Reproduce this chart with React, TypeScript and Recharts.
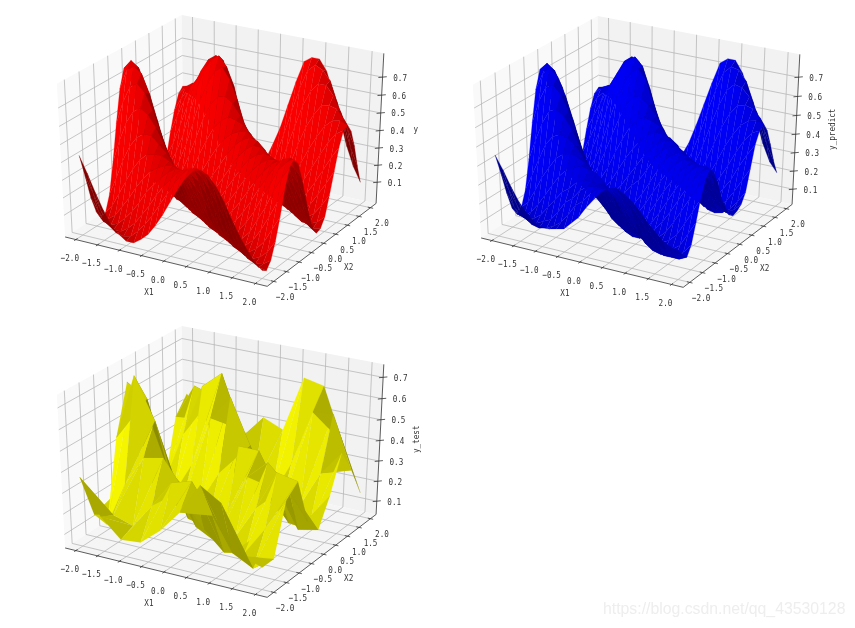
import React from 'react';
import { ScatterChart, Scatter, XAxis, YAxis } from 'recharts';

// Surface heights in hundredths. Rows run along X2 = -2 .. 2, columns along X1 = -2 .. 2.
const gridFine = [-2, -1.833, -1.667, -1.5, -1.333, -1.167, -1, -0.833, -0.667, -0.5, -0.333, -0.167, 0, 0.167, 0.333, 0.5, 0.667, 0.833, 1, 1.167, 1.333, 1.5, 1.667, 1.833, 2];
const gridCoarse = [-2, -1.556, -1.111, -0.667, -0.222, 0.222, 0.667, 1.111, 1.556, 2];

const yHundredths = [
  [43,34,24,15,7,3,0,0,3,7,13,20,28,36,43,48,50,48,43,36,27,19,12,6,2],
  [30,21,12,5,1,0,1,5,10,16,23,30,37,43,47,48,46,41,33,24,16,9,4,1,0],
  [16,9,3,0,0,3,7,13,19,26,32,37,42,44,45,42,36,29,21,13,6,2,0,1,4],
  [6,1,0,2,6,11,17,24,29,34,38,41,41,40,37,31,24,16,9,4,1,0,2,6,13],
  [0,1,4,10,16,23,29,34,37,39,40,39,36,31,26,19,12,6,2,0,1,4,9,17,25],
  [2,7,15,23,31,37,41,42,42,40,37,33,27,21,14,8,4,1,0,2,6,13,21,30,39],
  [11,21,32,41,47,50,50,46,42,36,30,24,17,11,6,2,0,1,3,8,16,24,34,42,49],
  [28,41,52,59,62,59,53,45,37,28,21,14,8,3,1,0,2,5,11,18,27,35,44,49,52],
  [48,61,70,73,69,60,49,38,27,18,11,6,2,0,1,3,8,14,21,29,36,43,48,50,48],
  [66,77,80,77,67,53,39,26,16,9,4,1,0,2,5,11,17,24,31,37,42,45,46,43,38],
  [76,81,78,68,54,39,25,14,7,2,0,1,3,8,14,21,28,34,39,42,43,42,38,33,26],
  [74,74,64,51,36,23,12,5,1,0,2,6,11,18,25,32,38,41,43,42,39,34,28,21,14],
  [61,55,44,31,18,9,3,0,1,4,9,15,22,29,36,41,44,44,41,37,31,24,17,11,5],
  [43,34,24,13,6,1,0,2,7,13,20,27,34,40,44,46,45,41,35,28,21,14,8,3,0],
  [25,16,9,3,0,1,5,11,19,27,34,40,44,46,47,44,40,33,25,18,11,5,2,0,1],
  [11,5,1,0,2,8,16,26,35,43,48,51,50,48,44,38,30,22,15,8,3,0,0,2,6],
  [2,0,1,5,12,22,33,45,54,59,60,57,51,44,36,28,19,12,6,2,0,1,4,10,17],
  [0,2,7,15,26,39,53,63,71,74,68,58,45,35,25,16,9,4,1,0,2,7,14,21,29],
  [4,10,18,29,43,57,69,75,78,73,63,47,34,23,13,6,2,0,1,5,11,18,26,34,41],
  [12,21,32,44,57,66,73,76,74,62,47,33,20,11,4,1,0,3,8,16,24,32,40,46,49],
  [25,35,45,54,60,64,66,64,57,43,29,17,8,2,0,1,6,13,23,32,40,47,51,52,50],
  [36,44,50,54,57,58,56,49,36,24,13,5,1,0,3,10,19,31,42,50,56,57,56,51,45],
  [44,49,52,52,49,45,38,28,17,8,2,0,1,6,14,26,39,52,61,66,66,61,53,44,35],
  [47,48,47,42,36,28,20,11,5,1,0,3,9,18,31,45,59,70,74,72,67,56,44,32,22],
  [42,40,36,29,21,14,7,2,0,1,5,12,22,33,47,61,73,76,76,70,58,44,30,19,11],
];

const yPredictHundredths = [
  [45,38,30,23,18,14,12,12,13,14,18,22,28,33,38,41,42,40,37,33,28,24,20,18,17],
  [34,26,19,13,10,9,10,12,15,20,26,29,34,37,38,38,36,34,29,24,19,15,13,12,13],
  [22,15,11,9,9,11,13,18,24,27,32,35,36,36,36,33,29,25,19,14,10,8,8,8,10],
  [12,9,8,9,12,17,22,27,30,34,36,36,36,34,31,27,22,15,10,7,6,6,7,10,15],
  [7,7,10,15,21,27,33,37,39,41,40,39,35,31,25,19,13,10,8,6,6,8,11,18,25],
  [9,13,20,28,34,40,43,44,43,41,37,33,27,21,16,10,8,7,7,8,10,14,21,28,36],
  [17,26,35,44,49,51,50,47,42,37,30,24,18,12,8,6,6,6,8,12,18,25,32,39,44],
  [32,43,53,60,62,59,53,45,37,29,22,15,9,5,3,3,6,10,15,21,28,35,41,46,48],
  [50,62,70,72,68,60,50,39,29,20,13,7,4,2,3,6,11,17,24,31,37,43,46,47,45],
  [66,75,79,75,66,54,41,29,19,12,6,3,2,3,6,13,20,27,33,39,43,45,45,43,38],
  [75,79,76,68,55,41,28,18,11,6,3,3,5,10,16,23,30,36,41,44,44,43,40,34,28],
  [73,71,64,52,39,27,17,10,6,5,6,8,13,19,26,33,40,43,45,44,42,38,33,28,22],
  [62,56,46,34,23,15,9,7,8,10,15,20,24,30,37,42,45,46,44,40,36,30,25,20,16],
  [45,37,28,19,12,8,7,8,12,17,23,29,35,40,44,46,46,43,38,32,27,22,18,15,14],
  [29,22,15,9,7,8,11,16,23,30,36,41,45,47,47,46,43,36,29,23,20,16,14,14,15],
  [16,11,8,7,9,14,21,30,38,45,50,52,51,49,45,40,34,27,20,15,12,11,11,13,17],
  [9,7,8,11,18,27,37,47,55,60,60,57,52,46,39,31,24,17,12,8,7,8,11,16,22],
  [7,9,13,20,30,42,54,63,70,73,68,57,47,38,29,21,15,10,7,7,9,13,19,26,33],
  [10,15,23,33,45,57,68,74,77,73,62,49,36,26,17,11,8,7,8,11,17,23,31,38,44],
  [18,26,35,46,58,65,72,75,73,61,49,36,25,17,11,8,7,10,14,21,28,36,43,48,50],
  [29,37,45,53,60,64,66,64,57,46,33,22,14,9,7,8,12,19,27,36,43,49,52,53,52],
  [39,46,50,54,57,58,56,49,39,28,18,11,8,7,10,16,24,34,44,52,57,58,57,53,47],
  [46,50,52,52,50,46,40,32,22,14,9,7,8,12,20,30,42,53,62,66,65,61,54,46,38],
  [48,49,48,44,39,32,25,17,11,8,7,10,15,23,34,47,59,69,73,72,67,57,46,36,28],
  [44,42,38,32,26,19,13,9,7,8,12,18,26,37,49,61,72,75,75,69,58,46,34,25,20],
];

const yTestHundredths = [
  [37,20,11,12,20,31,46,40,17,14],
  [15,17,14,26,39,42,28,12,7,14],
  [6,28,43,45,32,15,6,8,22,38],
  [45,76,57,27,10,5,10,26,45,43],
  [68,62,30,8,6,16,35,44,35,20],
  [37,14,6,12,29,44,44,27,10,12],
  [7,8,25,50,62,41,19,7,6,25],
  [10,35,60,68,43,14,6,12,30,42],
  [38,55,52,30,8,8,27,54,55,30],
  [46,35,14,8,42,38,65,63,38,15],
];

const tickVals = [-2, -1.5, -1, -0.5, 0, 0.5, 1, 1.5, 2];
const zTickVals = [0.1, 0.2, 0.3, 0.4, 0.5, 0.6, 0.7];
const toUnits = (rows: number[][]) => rows.map((r) => r.map((v) => v / 100));

const W = 430, H = 310, KX = 2333, KY = 1750, X0 = 223, Y0 = 146, L = 2.25;
const xDom = [-X0 / KX, (W - X0) / KX];
const yDom = [(Y0 - H) / KY, Y0 / KY];
const proj = (x: number, y: number, z: number, zl: number[]) => {
  const qx = (x + L) / (2 * L) - 0.5, qy = (y + L) / (2 * L) - 0.5, qz = (z - zl[0]) / (zl[1] - zl[0]) - 0.5;
  const d = 0.433 * qx - 0.75 * qy + 0.5 * qz;
  const w = 10 - d;
  return { x: (0.866 * qx + 0.5 * qy) / w, y: (-0.25 * qx + 0.433 * qy + 0.866 * qz) / w, d };
};

const Prim = (p: any) => {
  const d = p.payload, cx = p.cx, cy = p.cy;
  if (d.text !== undefined) {
    return <text x={cx} y={cy} fontFamily="'DejaVu Sans Mono'" fontSize={9.5} fill="#333" textAnchor="middle" dominantBaseline="central"
      textLength={d.text.length * 4.6} lengthAdjust="spacingAndGlyphs"
      transform={d.rot ? `rotate(${d.rot} ${cx} ${cy})` : undefined}>{d.text}</text>;
  }
  const pts = d.pts.map((q: any) => `${cx + (q.x - d.x) * KX},${cy - (q.y - d.y) * KY}`).join(' ');
  if (d.fill) return <polygon points={pts} fill={d.fill} stroke={d.edge ? d.fill : 'none'} strokeWidth={d.edge || 0} />;
  return <polyline points={pts} fill="none" stroke={d.stroke} strokeWidth={d.sw} />;
};

function axesPrims(zl: number[], zlab: string) {
  const P = (x: number, y: number, z: number) => proj(x, y, z, zl);
  const [a, b] = zl;
  const poly = (pts: any[], o: any) => ({ x: pts[0].x, y: pts[0].y, pts, ...o });
  const out: any[] = [];
  out.push(poly([P(-L, -L, a), P(-L, L, a), P(-L, L, b), P(-L, -L, b)], { fill: '#f9f9f9' }));
  out.push(poly([P(-L, L, a), P(L, L, a), P(L, L, b), P(-L, L, b)], { fill: '#f2f2f2' }));
  out.push(poly([P(-L, -L, a), P(L, -L, a), P(L, L, a), P(-L, L, a)], { fill: '#f5f5f5' }));
  const gs = { stroke: '#b8b8b8', sw: 0.8 };
  tickVals.forEach((t) => {
    out.push(poly([P(t, -L, a), P(t, L, a), P(t, L, b)], gs));
    out.push(poly([P(L, t, a), P(-L, t, a), P(-L, t, b)], gs));
  });
  zTickVals.forEach((t) => out.push(poly([P(-L, -L, t), P(-L, L, t), P(L, L, t)], gs)));
  const as = { stroke: '#333', sw: 0.8 };
  out.push(poly([P(-L, -L, a), P(L, -L, a), P(L, L, a), P(L, L, b)], as));
  tickVals.forEach((t) => {
    out.push(poly([P(t, -L - 0.06, a), P(t, -L + 0.06, a)], as));
    out.push(poly([P(L - 0.06, t, a), P(L + 0.06, t, a)], as));
    const q = P(t, -L, a);
    out.push({ x: q.x - 6 / KX, y: q.y - 18 / KY, text: t.toFixed(1).replace('-', '\u2212') });
    const r = P(L, t, a);
    out.push({ x: r.x + 11.5 / KX, y: r.y - 15 / KY, text: t.toFixed(1).replace('-', '\u2212') });
  });
  zTickVals.forEach((t) => {
    out.push(poly([P(L - 0.06, L - 0.06, t), P(L + 0.06, L + 0.06, t)], as));
    const q = P(L, L, t);
    out.push({ x: q.x + 17.5 / KX, y: q.y, text: t.toFixed(1) });
  });
  const m = P(0, -L, a);
  out.push({ x: m.x - 15 / KX, y: m.y - 30 / KY, text: 'X1' });
  const m2 = P(L, 0, a);
  out.push({ x: m2.x + 25 / KX, y: m2.y - 23 / KY, text: 'X2' });
  const m3 = P(L, L, (a + b) / 2);
  out.push({ x: m3.x + 36 / KX, y: m3.y + 2 / KY, text: zlab, rot: zlab.length > 1 ? -90 : 0 });
  return out;
}

function surfacePrims(rows: number[][], xs: number[], zl: number[], rgb: number[], tri: boolean) {
  const faces: any[] = [];
  const add = (c: number[][]) => {
    const u = [c[1][0] - c[0][0], c[1][1] - c[0][1], c[1][2] - c[0][2]];
    const v = [c[c.length - 1][0] - c[0][0], c[c.length - 1][1] - c[0][1], c[c.length - 1][2] - c[0][2]];
    const n = [u[1] * v[2] - u[2] * v[1], u[2] * v[0] - u[0] * v[2], u[0] * v[1] - u[1] * v[0]];
    const s = (-n[0] - n[1] + 0.5 * n[2]) / Math.hypot(n[0], n[1], n[2]) / 1.5;
    const pts = c.map((q) => proj(q[0], q[1], q[2], zl));
    const depth = pts.reduce((t, q) => t + q.d, 0) / pts.length;
    const k = 0.3 + 0.7 * (s + 1) / 2;
    faces.push({ x: pts[0].x, y: pts[0].y, pts, depth, edge: tri ? 0.1 : 0.25, fill: `rgb(${rgb.map((w) => Math.round(w * k)).join(',')})` });
  };
  for (let j = 0; j < xs.length - 1; j++) for (let i = 0; i < xs.length - 1; i++) {
    const a = [xs[i], xs[j], rows[j][i]], b = [xs[i + 1], xs[j], rows[j][i + 1]], c = [xs[i + 1], xs[j + 1], rows[j + 1][i + 1]], e = [xs[i], xs[j + 1], rows[j + 1][i]];
    if (tri) { add([a, b, c]); add([a, c, e]); } else add([a, b, c, e]);
  }
  return faces.sort((p, q) => p.depth - q.depth);
}

const Panel = ({ left, top, zl, zlab, rows, xs, rgb, tri }: any) => (
  <div style={{ position: 'absolute', left, top }}>
    <ScatterChart width={W} height={H} margin={{ top: 0, right: 0, bottom: 0, left: 0 }}>
      <XAxis type="number" dataKey="x" domain={xDom} hide />
      <YAxis type="number" dataKey="y" domain={yDom} hide />
      <Scatter data={axesPrims(zl, zlab)} shape={Prim} isAnimationActive={false} />
      <Scatter data={surfacePrims(toUnits(rows), xs, zl, rgb, !!tri)} shape={Prim} isAnimationActive={false} />
    </ScatterChart>
  </div>
);

export default function App() {
  return (
    <div style={{ position: 'absolute', left: 0, top: 0, width: 855, height: 628, background: '#fff', overflow: 'hidden', filter: 'blur(0.35px)' }}>
      <Panel left={0} top={0} zl={[-0.026, 0.83]} zlab="y" rows={yHundredths} xs={gridFine} rgb={[255, 0, 0]} />
      <Panel left={416} top={1} zl={[0.015, 0.817]} zlab="y_predict" rows={yPredictHundredths} xs={gridFine} rgb={[0, 0, 255]} />
      <Panel left={0} top={311} zl={[0.033, 0.76]} zlab="y_test" rows={yTestHundredths} xs={gridCoarse} rgb={[255, 255, 0]} tri />
      <div style={{ position: 'absolute', left: 603, top: 600, font: "15.8px 'Liberation Sans'", color: '#eeeeee' }}>https://blog.csdn.net/qq_43530128</div>
    </div>
  );
}
